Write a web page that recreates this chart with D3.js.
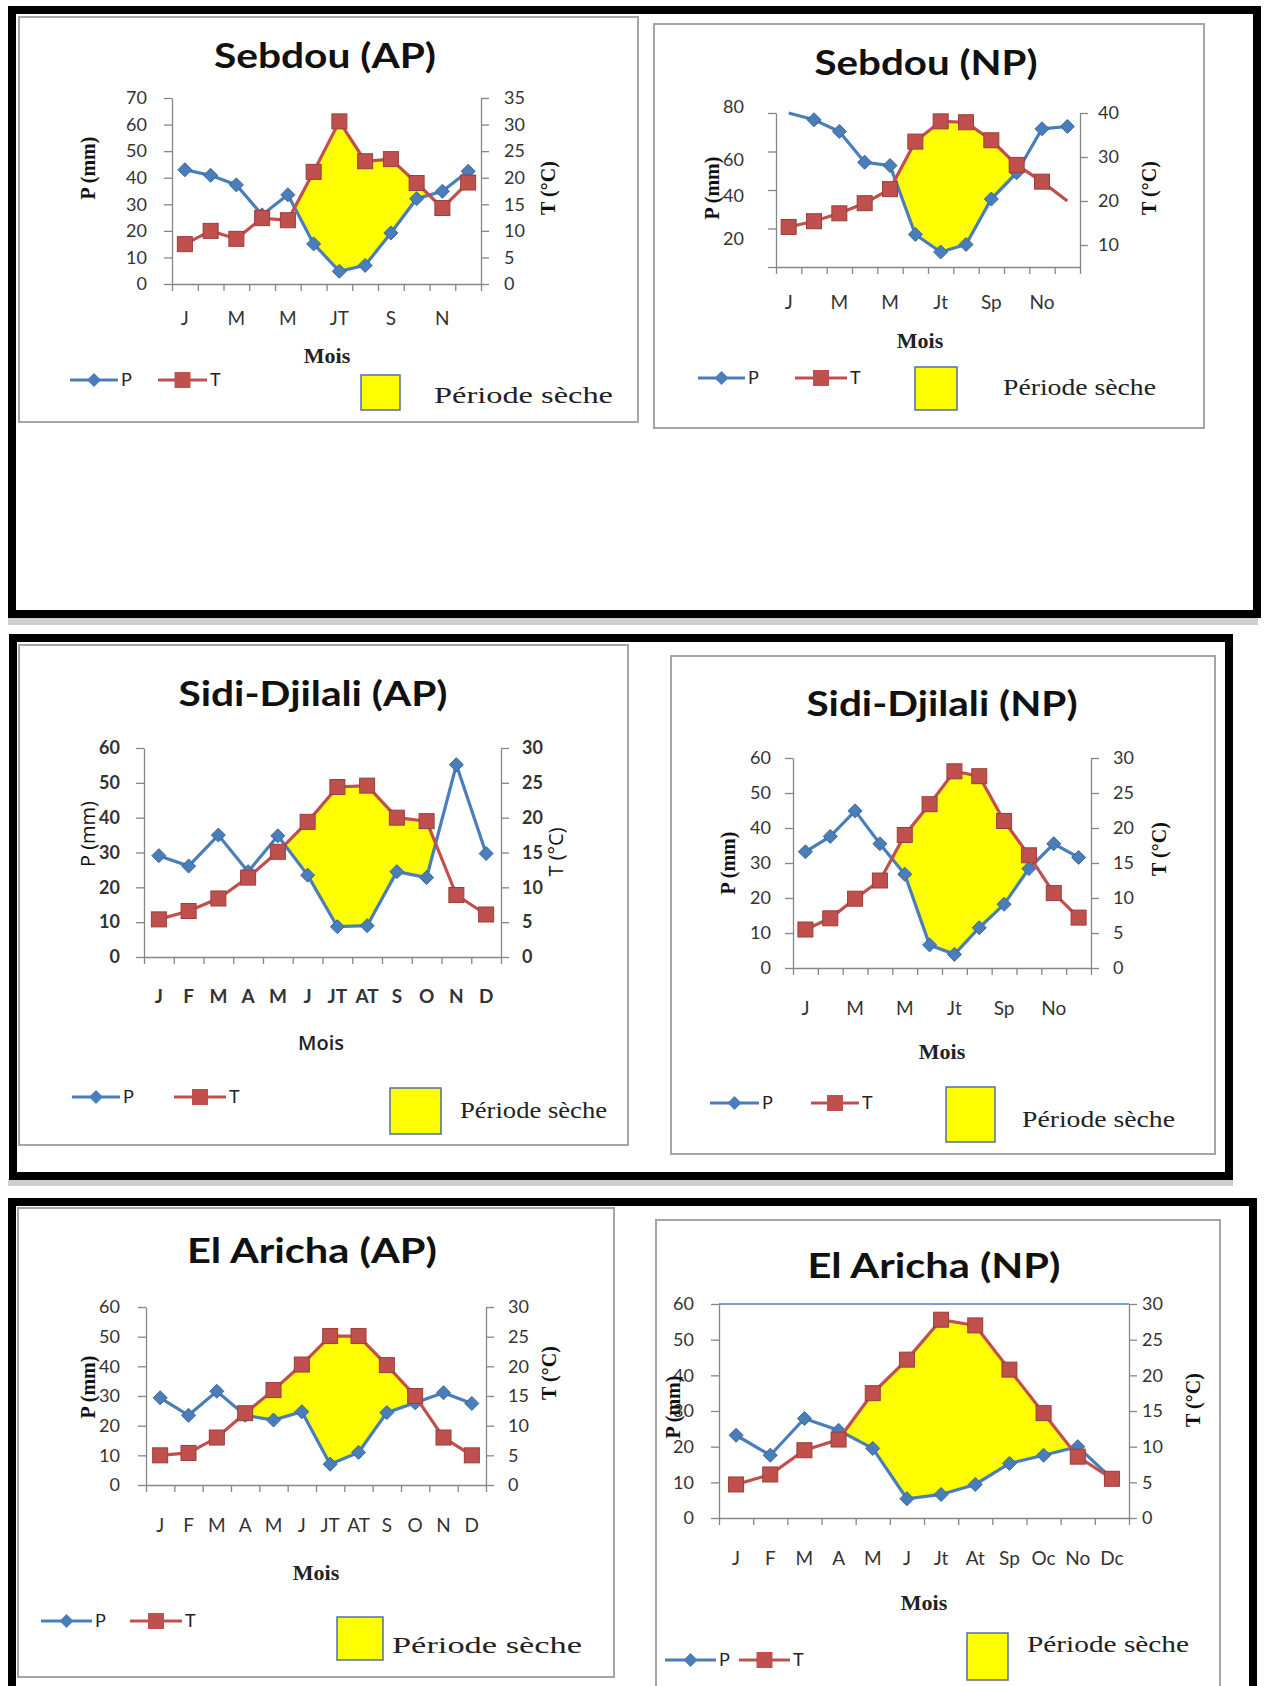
<!DOCTYPE html>
<html>
<head>
<meta charset="utf-8">
<script src="https://cdn.jsdelivr.net/npm/d3@7"></script>
<style>
  body { margin: 0; background: #fff; }
</style>
</head>
<body>
<svg id="fig"></svg>
<script>
// Mois (abréviations)
const moisA = ["J", "F", "M", "A", "M", "J", "JT", "AT", "S", "O", "N", "D"];
const moisB = ["J", "F", "M", "A", "M", "J", "Jt", "At", "Sp", "Oc", "No", "Dc"];

const sebdouApP = [43.0, 40.9, 37.3, 26.0, 33.6, 15.1, 4.8, 7.0, 19.2, 32.1, 34.9, 42.4];
const sebdouApT = [7.5, 10.0, 8.5, 12.4, 12.0, 21.1, 30.6, 23.1, 23.5, 19.0, 14.3, 19.1];

const sebdouNpP = [80.0, 76.5, 70.4, 54.4, 52.7, 16.9, 7.8, 11.7, 35.3, 49.0, 71.8, 73.0];
const sebdouNpT = [14.1, 15.4, 17.2, 19.5, 22.7, 33.5, 38.1, 37.9, 33.8, 28.2, 24.4, 20.0];

const sidiApP = [29.1, 26.1, 35.0, 24.5, 34.8, 23.5, 8.7, 9.0, 24.5, 22.8, 55.2, 29.7];
const sidiApT = [5.4, 6.6, 8.4, 11.4, 15.1, 19.4, 24.4, 24.6, 20.0, 19.5, 8.9, 6.1];

const sidiNpP = [33.2, 37.6, 44.9, 35.5, 26.8, 6.6, 3.9, 11.5, 18.2, 28.4, 35.5, 31.6];
const sidiNpT = [5.5, 7.1, 9.9, 12.5, 19.0, 23.4, 28.1, 27.4, 21.0, 16.1, 10.7, 7.2];

const arichaApP = [29.4, 23.5, 31.6, 23.5, 21.9, 24.7, 7.0, 11.0, 24.4, 27.7, 31.1, 27.5];
const arichaApT = [5.0, 5.4, 8.0, 12.1, 16.0, 20.3, 25.1, 25.1, 20.2, 15.0, 8.0, 5.0];

const arichaNpP = [23.2, 17.6, 27.9, 24.6, 19.5, 5.4, 6.6, 9.4, 15.3, 17.6, 20.0, 11.0];
const arichaNpT = [4.7, 6.1, 9.5, 11.0, 17.5, 22.2, 27.8, 27.0, 20.8, 14.7, 8.6, 5.5];

// graduations
const ticksP70 = [0, 10, 20, 30, 40, 50, 60, 70];
const ticksT35 = [0, 5, 10, 15, 20, 25, 30, 35];
const ticksP80 = [0, 20, 40, 60, 80];
const ticksT40 = [10, 20, 30, 40];
const ticksP60 = [0, 10, 20, 30, 40, 50, 60];
const ticksT30 = [0, 5, 10, 15, 20, 25, 30];

const bleu = "#4A7EBB", rouge = "#C0504D", jaune = "#FFFF00";
const serif = "'Liberation Serif', 'DejaVu Serif', serif";
const sans = "Lato, 'Open Sans', sans-serif";

const svg = d3.select("#fig").attr("width", 1264).attr("height", 1686);
svg.append("rect").attr("width", 1264).attr("height", 1686).attr("fill", "#fff");

// ombres grises sous les cadres
svg.append("rect").attr("x", 8).attr("y", 618).attr("width", 1250).attr("height", 7).attr("fill", "#cfcfcf");
svg.append("rect").attr("x", 8).attr("y", 1179).attr("width", 1225).attr("height", 7).attr("fill", "#cfcfcf");

const panneaux = [
  { nom: "Sebdou (AP)", P: sebdouApP, T: sebdouApT, mois: moisA, pas: 2,
    pDom: [0, 70], pTicks: ticksP70, tDom: [0, 35], tTicks: ticksT35,
    cadre: [19, 17, 638, 422], titre: [325, 68, 222], plot: [172, 98, 481, 284],
    gapL: 25, gapR: 23, xlabY: 318, tickW: 400, labelStyle: "serif",
    moisPos: [327, 363], pLab: [88, 168], tLab: [548, 188],
    leg: { y: 380, p: [70, 118], t: [158, 207], sq: [361, 375, 400, 410], txt: [434, 403, 179] } },
  { nom: "Sebdou (NP)", P: sebdouNpP, T: sebdouNpT, mois: moisB, pas: 2,
    pDom: [0, 80], pTicks: ticksP80, hideZero: true, tDom: [5, 40], tTicks: ticksT40,
    decalP: { 80: -6, 60: 8, 40: 6, 20: 10 }, sansP: [0], sansT: [11],
    cadre: [654, 24, 1204, 428], titre: [926, 75, 223], plot: [776, 113, 1080, 267],
    gapL: 32, gapR: 18, xlabY: 302, tickW: 400, labelStyle: "serif",
    moisPos: [920, 348], pLab: [712, 188], tLab: [1149, 188],
    leg: { y: 378, p: [698, 745], t: [795, 847], sq: [915, 367, 957, 410], txt: [1003, 395, 153] } },
  { nom: "Sidi-Djilali (AP)", P: sidiApP, T: sidiApT, mois: moisA, pas: 1,
    pDom: [0, 60], pTicks: ticksP60, tDom: [0, 30], tTicks: ticksT30,
    cadre: [19, 645, 628, 1145], titre: [313, 706, 269], plot: [144, 748, 501, 957],
    gapL: 24, gapR: 21, xlabY: 996, tickW: 700, labelStyle: "sans",
    moisPos: [321, 1050], pLab: [88, 834], tLab: [556, 852],
    leg: { y: 1097, p: [72, 120], t: [174, 226], sq: [390, 1088, 441, 1134], txt: [460, 1118, 147] } },
  { nom: "Sidi-Djilali (NP)", P: sidiNpP, T: sidiNpT, mois: moisB, pas: 2,
    pDom: [0, 60], pTicks: ticksP60, tDom: [0, 30], tTicks: ticksT30,
    cadre: [671, 656, 1215, 1154], titre: [942, 716, 271], plot: [793, 758, 1091, 968],
    gapL: 22, gapR: 22, xlabY: 1008, tickW: 400, labelStyle: "serif",
    moisPos: [942, 1059], pLab: [728, 863], tLab: [1159, 849],
    leg: { y: 1103, p: [710, 759], t: [811, 859], sq: [946, 1087, 995, 1142], txt: [1022, 1127, 153] } },
  { nom: "El Aricha (AP)", P: arichaApP, T: arichaApT, mois: moisA, pas: 1,
    pDom: [0, 60], pTicks: ticksP60, tDom: [0, 30], tTicks: ticksT30,
    cadre: [18, 1208, 614, 1677], titre: [312, 1263, 250], plot: [146, 1307, 486, 1485],
    gapL: 26, gapR: 22, xlabY: 1525, tickW: 400, labelStyle: "serif",
    moisPos: [316, 1580], pLab: [88, 1387], tLab: [549, 1373],
    leg: { y: 1621, p: [41, 92], t: [130, 182], sq: [337, 1617, 383, 1660], txt: [392, 1653, 190] } },
  { nom: "El Aricha (NP)", P: arichaNpP, T: arichaNpT, mois: moisB, pas: 1,
    pDom: [0, 60], pTicks: ticksP60, tDom: [0, 30], tTicks: ticksT30, ligneHaut: true,
    cadre: [656, 1220, 1220, 1700], titre: [934, 1278, 253], plot: [719, 1304, 1129, 1518],
    gapL: 25, gapR: 13, xlabY: 1558, tickW: 400, labelStyle: "serif",
    moisPos: [924, 1610], pLab: [673, 1407], tLab: [1193, 1400],
    leg: { y: 1660, p: [665, 716], t: [739, 790], sq: [967, 1633, 1008, 1680], txt: [1027, 1652, 162] } }
];

// point de croisement des deux courbes (en pixels)
function croise(a, b) {
  const da = a.yb - a.yr, db = b.yb - b.yr;
  const k = da / (da - db);
  const y = a.yr + k * (b.yr - a.yr);
  return { x: a.x + k * (b.x - a.x), yr: y, yb: y };
}

// zones où la courbe T passe au-dessus de la courbe P
function zonesSeches(pts) {
  const zones = [];
  let cur = null;
  pts.forEach((p, i) => {
    if (p.yb - p.yr > 0) {
      if (!cur) {
        cur = [];
        if (i > 0) cur.push(croise(pts[i - 1], p));
      }
      cur.push(p);
    } else if (cur) {
      cur.push(croise(pts[i - 1], p));
      zones.push(cur);
      cur = null;
    }
  });
  if (cur) zones.push(cur);
  return zones;
}

function losange(r) {
  return `M0,${-r}L${r},0L0,${r}L${-r},0Z`;
}

function styleAxe(sel, c) {
  sel.select(".domain").attr("stroke", "#868686").attr("stroke-width", 1.3);
  sel.selectAll(".tick line").attr("stroke", "#868686").attr("stroke-width", 1.3);
  sel.selectAll(".tick text")
    .attr("font-family", sans)
    .attr("font-size", 18)
    .attr("font-weight", c.tickW)
    .attr("fill", "#333");
}

function dessine(c) {
  const g = svg.append("g");
  const [bx0, by0, bx1, by1] = c.cadre;
  const [l, t, r, b] = c.plot;
  const sansP = c.sansP || [], sansT = c.sansT || [];

  g.append("rect")
    .attr("x", bx0).attr("y", by0)
    .attr("width", bx1 - bx0).attr("height", by1 - by0)
    .attr("fill", "#fff").attr("stroke", "#a5a5a5").attr("stroke-width", 2);

  g.append("text")
    .attr("x", c.titre[0]).attr("y", c.titre[1])
    .attr("text-anchor", "middle")
    .attr("font-family", sans).attr("font-weight", 700).attr("font-size", 35)
    .attr("fill", "#111")
    .attr("textLength", c.titre[2]).attr("lengthAdjust", "spacingAndGlyphs")
    .text(c.nom);

  const x = d3.scaleLinear().domain([0, 12]).range([l, r]);
  const yP = d3.scaleLinear().domain(c.pDom).range([b, t]);
  const yT = d3.scaleLinear().domain(c.tDom).range([b, t]);

  // période sèche
  const pts = c.P.map((p, i) => ({ x: x(i + 0.5), yb: yP(p), yr: yT(c.T[i]) }));
  zonesSeches(pts).forEach(z => {
    const poly = z.map(p => [p.x, p.yr]).concat(z.slice().reverse().map(p => [p.x, p.yb]));
    g.append("polygon")
      .attr("points", poly.map(p => p.join(",")).join(" "))
      .attr("fill", jaune);
  });

  if (c.ligneHaut) {
    g.append("line").attr("x1", l).attr("x2", r).attr("y1", t).attr("y2", t)
      .attr("stroke", bleu).attr("stroke-width", 1.5);
  }

  // axes
  const axeP = g.append("g").attr("transform", `translate(${l},0)`)
    .call(d3.axisLeft(yP).tickValues(c.pTicks).tickSize(8).tickSizeOuter(0)
      .tickPadding(c.gapL - 8)
      .tickFormat(d => (c.hideZero && d === 0) ? "" : d))
    .call(s => styleAxe(s, c));
  if (c.decalP) {
    axeP.selectAll(".tick text").attr("y", d => c.decalP[d] || 0);
  }

  g.append("g").attr("transform", `translate(${r},0)`)
    .call(d3.axisRight(yT).tickValues(c.tTicks).tickSize(8).tickSizeOuter(0)
      .tickPadding(c.gapR - 8))
    .call(s => styleAxe(s, c));

  g.append("g").attr("transform", `translate(0,${b})`)
    .call(d3.axisBottom(x).tickValues(d3.range(13)).tickSize(7).tickSizeOuter(0).tickFormat(""))
    .call(s => styleAxe(s, c));

  g.selectAll(".mois")
    .data(c.mois)
    .enter()
    .append("text")
    .attr("class", "mois")
    .attr("x", (d, i) => x(i + 0.5))
    .attr("y", c.xlabY)
    .attr("dy", "0.35em")
    .attr("text-anchor", "middle")
    .attr("font-family", sans).attr("font-size", 19).attr("font-weight", c.tickW)
    .attr("fill", "#333")
    .text((d, i) => i % c.pas === 0 ? d : "");

  // titres des axes
  const serifLab = c.labelStyle === "serif";
  const police = serifLab ? serif : "'Open Sans', sans-serif";
  const poids = serifLab ? 700 : 400;
  g.append("text")
    .attr("x", c.moisPos[0]).attr("y", c.moisPos[1])
    .attr("text-anchor", "middle")
    .attr("font-family", police).attr("font-weight", serifLab ? 700 : 600)
    .attr("font-size", serifLab ? 22 : 20).attr("fill", "#222")
    .text("Mois");
  g.append("text")
    .attr("transform", `translate(${c.pLab[0]},${c.pLab[1]}) rotate(-90)`)
    .attr("text-anchor", "middle").attr("dy", "0.35em")
    .attr("font-family", police).attr("font-weight", poids)
    .attr("font-size", 20).attr("fill", "#111")
    .text("P (mm)");
  g.append("text")
    .attr("transform", `translate(${c.tLab[0]},${c.tLab[1]}) rotate(-90)`)
    .attr("text-anchor", "middle").attr("dy", "0.35em")
    .attr("font-family", police).attr("font-weight", poids)
    .attr("font-size", 20).attr("fill", "#111")
    .text("T (°C)");

  // courbes
  const ligne = d3.line().x((d, i) => x(i + 0.5));
  g.append("path").datum(c.P)
    .attr("d", ligne.y(d => yP(d)))
    .attr("fill", "none").attr("stroke", bleu).attr("stroke-width", 3.2);
  g.selectAll(".pt-p")
    .data(c.P.map((v, i) => ({ v, i })).filter(d => !sansP.includes(d.i)))
    .enter()
    .append("path")
    .attr("class", "pt-p")
    .attr("transform", d => `translate(${x(d.i + 0.5)},${yP(d.v)})`)
    .attr("d", losange(7))
    .attr("fill", bleu).attr("stroke", "#3A6699").attr("stroke-width", 1);

  g.append("path").datum(c.T)
    .attr("d", ligne.y(d => yT(d)))
    .attr("fill", "none").attr("stroke", rouge).attr("stroke-width", 3.2);
  g.selectAll(".pt-t")
    .data(c.T.map((v, i) => ({ v, i })).filter(d => !sansT.includes(d.i)))
    .enter()
    .append("rect")
    .attr("class", "pt-t")
    .attr("x", d => x(d.i + 0.5) - 7.5)
    .attr("y", d => yT(d.v) - 7.5)
    .attr("width", 15).attr("height", 15)
    .attr("fill", rouge).attr("stroke", "#9B3D3A").attr("stroke-width", 1);

  // légende
  const lg = c.leg;
  g.append("line").attr("x1", lg.p[0]).attr("x2", lg.p[1]).attr("y1", lg.y).attr("y2", lg.y)
    .attr("stroke", bleu).attr("stroke-width", 3.2);
  g.append("path").attr("transform", `translate(${(lg.p[0] + lg.p[1]) / 2},${lg.y})`)
    .attr("d", losange(7)).attr("fill", bleu);
  g.append("text").attr("x", lg.p[1] + 3).attr("y", lg.y).attr("dy", "0.35em")
    .attr("font-family", sans).attr("font-size", 18).attr("fill", "#222").text("P");

  g.append("line").attr("x1", lg.t[0]).attr("x2", lg.t[1]).attr("y1", lg.y).attr("y2", lg.y)
    .attr("stroke", rouge).attr("stroke-width", 3.2);
  g.append("rect").attr("x", (lg.t[0] + lg.t[1]) / 2 - 8).attr("y", lg.y - 8)
    .attr("width", 16).attr("height", 16).attr("fill", rouge);
  g.append("text").attr("x", lg.t[1] + 3).attr("y", lg.y).attr("dy", "0.35em")
    .attr("font-family", sans).attr("font-size", 18).attr("fill", "#222").text("T");

  g.append("rect")
    .attr("x", lg.sq[0]).attr("y", lg.sq[1])
    .attr("width", lg.sq[2] - lg.sq[0]).attr("height", lg.sq[3] - lg.sq[1])
    .attr("fill", jaune).attr("stroke", "#4F6FA8").attr("stroke-width", 1.5);
  g.append("text")
    .attr("x", lg.txt[0]).attr("y", lg.txt[1])
    .attr("font-family", serif).attr("font-size", 24).attr("fill", "#222")
    .attr("textLength", lg.txt[2]).attr("lengthAdjust", "spacingAndGlyphs")
    .text("Période sèche");
}

panneaux.forEach(dessine);

// cadres noirs
const cadres = [[12, 10, 1257, 614], [13, 638, 1229, 1176], [12, 1202, 1253, 1700]];
svg.selectAll(".cadre")
  .data(cadres)
  .enter()
  .append("rect")
  .attr("class", "cadre")
  .attr("x", d => d[0]).attr("y", d => d[1])
  .attr("width", d => d[2] - d[0]).attr("height", d => d[3] - d[1])
  .attr("fill", "none").attr("stroke", "#000").attr("stroke-width", 8);
</script>
</body>
</html>
